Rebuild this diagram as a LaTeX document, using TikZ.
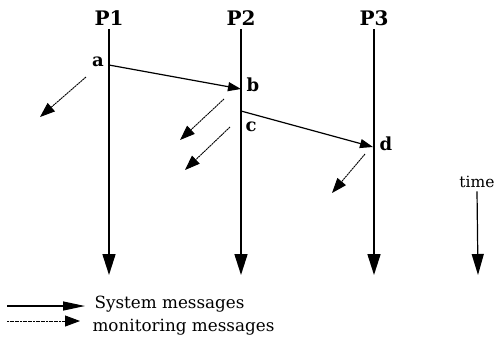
\documentclass[tikz,border=0pt]{standalone}
\usepackage{fontspec}
\setmainfont{DejaVu Serif}
\usetikzlibrary{arrows.meta}
\begin{document}
\begin{tikzpicture}[x=1pt,y=-1pt,
  proc/.style={font=\fontsize{20}{24}\selectfont\bfseries},
  evt/.style={font=\fontsize{18}{20}\selectfont\bfseries},
  txt/.style={font=\fontsize{16.8}{20}\selectfont, anchor=west},
  timeline/.style={line width=1.6pt, -{Triangle[length=21pt,width=13pt]}},
  sysmsg/.style={line width=1.2pt, -{Triangle[length=13pt,width=9pt]}},
  monmsg/.style={line width=0.9pt, dash pattern=on 2pt off 0.6pt, -{Triangle[length=15pt,width=11pt]}}]
\useasboundingbox (0,0) rectangle (497,341);
% processes
\node[proc] (p1) at (109,18) {P1};
\node[proc] (p2) at (241,18) {P2};
\node[proc] (p3) at (374,18) {P3};
\coordinate (e1) at (109,275);
\coordinate (e2) at (241,275);
\coordinate (e3) at (374,275);
\draw[timeline] (p1.south) -- (e1);
\draw[timeline] (p2.south) -- (e2);
\draw[timeline] (p3.south) -- (e3);
% events
\coordinate (a) at (109,65);
\coordinate (b) at (241,89);
\coordinate (c) at (241,111);
\coordinate (d) at (373,147);
\node[evt] at (98,62) {a};
\node[evt] at (253,85) {b};
\node[evt] at (251,127) {c};
\node[evt] at (386,144) {d};
\draw[sysmsg] (a) -- (b);
\draw[sysmsg] (c) -- (d);
% monitoring messages
\coordinate (ma) at (86,77);   \coordinate (ma') at (40,117);
\coordinate (mb) at (224,99);  \coordinate (mb') at (180,140);
\coordinate (mc) at (230,127); \coordinate (mc') at (185,170);
\coordinate (md) at (365,154); \coordinate (md') at (332,193);
\draw[monmsg] (ma) -- (ma');
\draw[monmsg] (mb) -- (mb');
\draw[monmsg] (mc) -- (mc');
\draw[monmsg] (md) -- (md');
% time
\node[font=\fontsize{15.5}{18}\selectfont] (time) at (477,182) {time};
\coordinate (te) at (478,275);
\draw[line width=1.2pt, -{Triangle[length=21pt,width=12pt]}] (time.south) -- (te);
% legend
\coordinate (l1) at (7,306); \coordinate (l1') at (85,306);
\coordinate (l2) at (7,321); \coordinate (l2') at (80,321);
\draw[line width=1.2pt, -{Triangle[length=22pt,width=9pt]}] (l1) -- (l1');
\draw[monmsg] (l2) -- (l2');
\node[txt] (sys) at (91,304) {System messages};
\node[txt] (mon) at (89,327) {monitoring messages};
\end{tikzpicture}
\end{document}
